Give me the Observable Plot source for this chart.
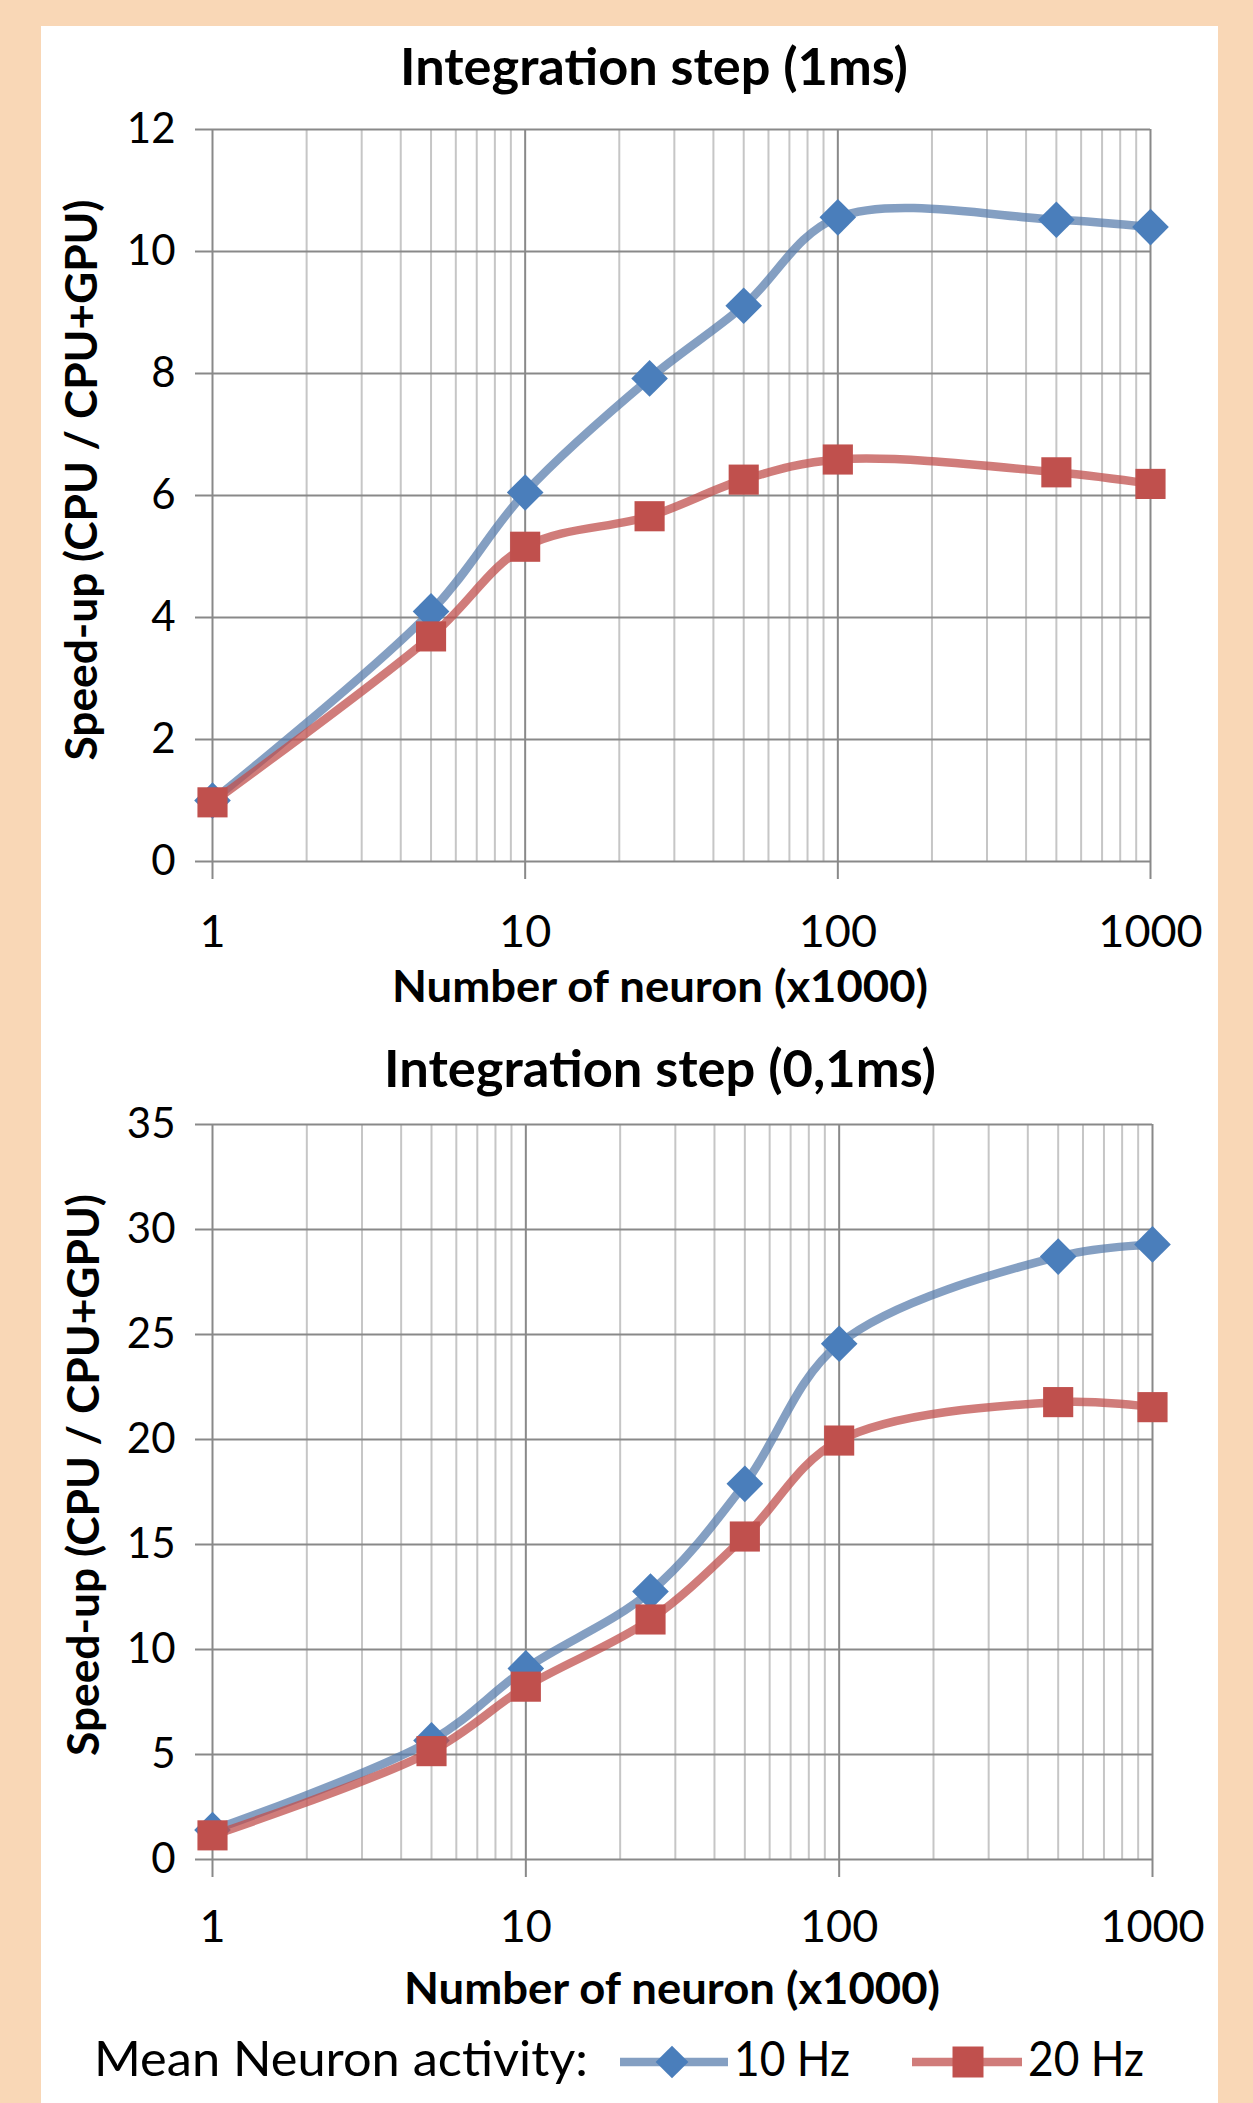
<!DOCTYPE html>
<html>
<head>
<meta charset="utf-8">
<script src="https://cdn.jsdelivr.net/npm/d3@7"></script>
<script src="https://cdn.jsdelivr.net/npm/@observablehq/plot@0.6"></script>
<style>
  html, body { margin: 0; padding: 0; }
  body { width: 1253px; height: 2103px; background: #f9d7b6; position: relative; overflow: hidden; font-family: Lato, "Open Sans", sans-serif; }
  #panel { position: absolute; left: 41px; top: 26px; width: 1177px; height: 2077px; background: #ffffff; }
  .chart { position: absolute; left: 0; }
  #overlay { position: absolute; left: 0; top: 0; pointer-events: none; }
</style>
</head>
<body>
<div id="panel"></div>
<div id="c1" class="chart" style="top:0px"></div>
<div id="c2" class="chart" style="top:1000px"></div>
<svg id="overlay" width="1253" height="2103"></svg>
<script>
// ---- data ----
const neurons = [1, 5, 10, 25, 50, 100, 500, 1000];          // x1000 neurons
const speed1ms_10Hz = [1.0, 4.1, 6.05, 7.92, 9.11, 10.56, 10.52, 10.40];
const speed1ms_20Hz = [0.97, 3.69, 5.16, 5.66, 6.26, 6.59, 6.38, 6.19];
const speed01ms_10Hz = [1.4, 5.67, 9.1, 12.76, 17.89, 24.56, 28.71, 29.29];
const speed01ms_20Hz = [1.15, 5.16, 8.23, 11.43, 15.38, 19.95, 21.78, 21.54];
const xTickValues = [1, 10, 100, 1000];
const yTicks1ms = [0, 2, 4, 6, 8, 10, 12];
const yTicks01ms = [0, 5, 10, 15, 20, 25, 30, 35];
const seriesNames = ["10 Hz", "20 Hz"];
const titles = ["Integration step (1ms)", "Integration step (0,1ms)"];
const xTitle = "Number of neuron (x1000)";
const yTitle = "Speed-up (CPU / CPU+GPU)";
const legendTitle = "Mean Neuron activity:";

// minor log gridlines 2..9 in each decade
const minorTicks = [];
for (const dec of [1, 10, 100]) for (let k = 2; k <= 9; k++) minorTicks.push(k * dec);

const BLUE_LINE = "#557aab", BLUE_MARK = "#4a7ebb";
const RED_LINE = "#c0504d", RED_MARK = "#c0504d";
const GRID = "#898989", MINOR = "#c6c6c6";
const FONT = "Lato, 'Open Sans', sans-serif";
const LINE_W = 8.5;

function makeChart({s10, s20, yDomain, yTicks, height, marginTop, marginBottom, marginRight, tickPadding}) {
  const d10 = neurons.map((n, i) => ({x: n, y: s10[i]}));
  const d20 = neurons.map((n, i) => ({x: n, y: s20[i]}));
  return Plot.plot({
    width: 1253, height, marginLeft: 212, marginRight, marginTop, marginBottom,
    style: {background: "transparent", fontFamily: FONT, color: "black", overflow: "visible"},
    x: {type: "log", domain: [1, 1000]},
    y: {domain: yDomain},
    marks: [
      Plot.gridX({ticks: minorTicks, stroke: MINOR, strokeOpacity: 1, strokeWidth: 2}),
      Plot.gridX({ticks: xTickValues, stroke: GRID, strokeOpacity: 1, strokeWidth: 2}),
      Plot.gridY({ticks: yTicks, stroke: GRID, strokeOpacity: 1, strokeWidth: 2}),
      Plot.axisY({ticks: yTicks, tickSize: 17, tickPadding: 20, stroke: GRID, strokeWidth: 2, fill: "black", fontSize: 42, label: null}),
      Plot.axisX({ticks: xTickValues, tickSize: 18, tickPadding, stroke: GRID, strokeWidth: 2, fill: "black", fontSize: 45, tickFormat: d => String(d), label: null}),
      Plot.line(d10, {x: "x", y: "y", stroke: BLUE_LINE, strokeOpacity: 0.72, strokeWidth: LINE_W, curve: "catmull-rom"}),
      Plot.dot(d10, {x: "x", y: "y", symbol: "diamond2", r: 16.5, fill: BLUE_MARK, stroke: "none"}),
      Plot.line(d20, {x: "x", y: "y", stroke: RED_LINE, strokeOpacity: 0.75, strokeWidth: LINE_W, curve: "catmull-rom"}),
      Plot.dot(d20, {x: "x", y: "y", symbol: "square", r: 17, fill: RED_MARK, stroke: "none"})
    ]
  });
}

document.getElementById("c1").append(makeChart({
  s10: speed1ms_10Hz, s20: speed1ms_20Hz, yDomain: [0, 12], yTicks: yTicks1ms,
  height: 980, marginTop: 129, marginBottom: 119, marginRight: 103, tickPadding: 36
}));
document.getElementById("c2").append(makeChart({
  s10: speed01ms_10Hz, s20: speed01ms_20Hz, yDomain: [0, 35], yTicks: yTicks01ms,
  height: 1000, marginTop: 124, marginBottom: 141, marginRight: 101, tickPadding: 33
}));

// ---- titles, axis labels and legend ----
const ov = d3.select("#overlay");
function txt(s, {x, y, len, size, weight = "bold", anchor = "start", rotate = false}) {
  const t = ov.append("text")
    .attr("font-family", FONT).attr("font-size", size).attr("font-weight", weight)
    .attr("fill", "black").attr("text-anchor", anchor)
    .attr("textLength", len).attr("lengthAdjust", "spacingAndGlyphs")
    .text(s);
  if (rotate) t.attr("transform", `translate(${x},${y}) rotate(-90)`);
  else t.attr("x", x).attr("y", y);
  return t;
}
txt(titles[0], {x: 400, y: 85, len: 508, size: 51});
txt(xTitle, {x: 392, y: 1002, len: 536, size: 44});
txt(titles[1], {x: 384, y: 1087, len: 552, size: 51});
txt(xTitle, {x: 404, y: 2004, len: 536, size: 44});
txt(yTitle, {x: 97, y: 480, len: 561, size: 44, anchor: "middle", rotate: true});
txt(yTitle, {x: 99, y: 1475, len: 562, size: 44, anchor: "middle", rotate: true});

// legend
txt(legendTitle, {x: 94, y: 2076, len: 494, size: 48, weight: "normal"});
const ly = 2062;
ov.append("line").attr("x1", 620).attr("x2", 728).attr("y1", ly).attr("y2", ly)
  .attr("stroke", BLUE_LINE).attr("stroke-opacity", 0.72).attr("stroke-width", LINE_W);
ov.append("path").attr("d", d3.symbol(d3.symbolDiamond2, 16 * 16 * Math.PI * 0.85)())
  .attr("transform", `translate(672,${ly})`).attr("fill", BLUE_MARK);
txt(seriesNames[0], {x: 734, y: 2076, len: 116, size: 48, weight: "normal"});
ov.append("line").attr("x1", 912).attr("x2", 1022).attr("y1", ly).attr("y2", ly)
  .attr("stroke", RED_LINE).attr("stroke-opacity", 0.75).attr("stroke-width", LINE_W);
ov.append("path").attr("d", d3.symbol(d3.symbolSquare, 31 * 31)())
  .attr("transform", `translate(968,${ly})`).attr("fill", RED_MARK);
txt(seriesNames[1], {x: 1028, y: 2076, len: 116, size: 48, weight: "normal"});
</script>
</body>
</html>
